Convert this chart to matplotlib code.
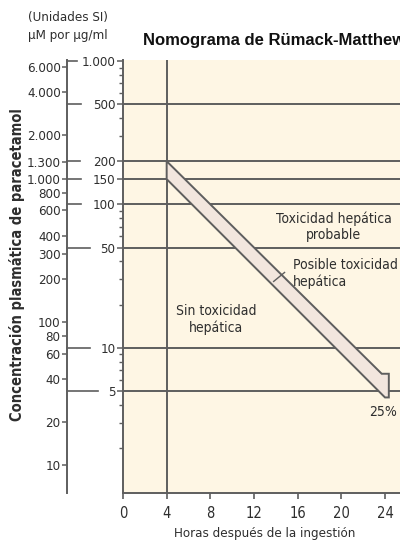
import numpy as np
import matplotlib
matplotlib.use("Agg")
import matplotlib.pyplot as plt
from matplotlib.transforms import blended_transform_factory
from matplotlib.ticker import FixedLocator, NullFormatter

# --- data ---------------------------------------------------------------
hours_ticks = [0, 4, 8, 12, 16, 20, 24]
ugml_major = [1000, 500, 200, 150, 100, 50, 10, 5]
ugml_minor = [900, 800, 700, 600, 400, 300, 90, 80, 70, 60, 40, 30, 20,
              9, 8, 7, 6, 4, 3, 2]
grid_levels = [500, 200, 150, 100, 50, 10, 5]
umol_ticks = [6000, 4000, 2000, 1300, 1000, 800, 600, 400, 300, 200,
              100, 80, 60, 40, 20, 10]
umol_labels = ["6.000", "4.000", "2.000", "1.300", "1.000", "800", "600",
               "400", "300", "200", "100", "80", "60", "40", "20", "10"]
ugml_to_umol = 6.616          # 1 µg/ml paracetamol = 6.616 µM

band_hours = [4, 24]
upper_limit = [200, 6.25]     # treatment line
lower_limit = [150, 4.5]      # 25 % below

# --- style --------------------------------------------------------------
W, H, DPI = 400, 546, 100
TXT = "#2e2e2e"
LINE = "#5e5e5e"
CREAM = "#fef6e4"
BAND = "#f2e6de"

plt.rcParams["font.family"] = ["DejaVu Sans"]
plt.rcParams["font.stretch"] = "condensed"

fig = plt.figure(figsize=(W / DPI, H / DPI), dpi=DPI)

def fx(px):
    return px / W

def fy(py):
    return 1 - py / H

ax_left, ax_top, ax_bottom = 123, 60, 493
px_per_hour = (385 - 123) / 24
xmax = 26.0
ax = fig.add_axes([fx(ax_left), fy(ax_bottom),
                   xmax * px_per_hour / W, (ax_bottom - ax_top) / H])
ax.set_facecolor(CREAM)
ax.set_yscale("log")
ylim = (0.97, 1016)
ax.set_ylim(*ylim)
ax.set_xlim(0, xmax)

for s in ("top", "right"):
    ax.spines[s].set_visible(False)
for s in ("left", "bottom"):
    ax.spines[s].set_color(LINE)
    ax.spines[s].set_linewidth(1.4)

# x axis
ax.set_xticks(hours_ticks)
ax.set_xticklabels([str(h) for h in hours_ticks])
ax.tick_params(axis="x", length=4, width=1.2, color=LINE, labelsize=10.5,
               labelcolor=TXT, pad=5)

# inner concentration axis (µg/ml)
ax.yaxis.set_major_locator(FixedLocator(ugml_major))
ax.yaxis.set_minor_locator(FixedLocator(ugml_minor))
ax.set_yticklabels([f"{v:,}".replace(",", ".") for v in ugml_major])
ax.yaxis.set_minor_formatter(NullFormatter())
ax.tick_params(axis="y", which="major", length=4.5, width=1.1, color=LINE,
               labelsize=9.5, labelcolor=TXT, pad=1)
ax.tick_params(axis="y", which="minor", length=3, width=1.0, color=LINE)

# grid lines
for lvl in grid_levels:
    ax.axhline(lvl, color=LINE, lw=1.4, zorder=2)
ax.axvline(4, color=LINE, lw=1.4, zorder=2)

# toxicity band
def loglin(h, hs, vs):
    lv = np.interp(h, hs, np.log10(vs))
    return 10 ** lv

h_end = 23.7
h_flag = 24.35
v_top = loglin(h_end, band_hours, upper_limit)
v_bot = lower_limit[1]
hh = np.linspace(band_hours[0], h_end, 50)
poly_x = list(hh) + [h_flag, h_flag, band_hours[1]] + list(
    np.linspace(band_hours[1], band_hours[0], 50))
poly_y = list(loglin(hh, band_hours, upper_limit)) + [v_top, v_bot, v_bot] + list(
    loglin(np.linspace(band_hours[1], band_hours[0], 50), band_hours, lower_limit))
ax.fill(poly_x, poly_y, facecolor=BAND, edgecolor=LINE, lw=1.4, zorder=3)

# annotations
note = dict(fontsize=10, color=TXT, linespacing=1.2, zorder=4)
ax.text(19.3, 70, "Toxicidad hepática\nprobable", ha="center", va="center",
        **note)
ax.text(15.6, 33, "Posible toxicidad\nhepática", ha="left", va="center",
        **note)
ax.plot([13.8, 14.8], [29, 33.5], color=LINE, lw=1.0, zorder=4)
ax.text(8.5, 15.7, "Sin toxicidad\nhepática", ha="center", va="center",
        **note)
ax.text(23.85, 3.55, "25%", ha="center", va="center", fontsize=10,
        color=TXT, zorder=4)

ax.set_xlabel("Horas después de la ingestión", fontsize=9.5, color=TXT,
              labelpad=5)

# outer axis in SI units (µM)
ax2 = fig.add_axes([fx(67), fy(ax_bottom), 0.001, (ax_bottom - ax_top) / H])
ax2.set_yscale("log")
ax2.set_ylim(ylim[0] * ugml_to_umol, ylim[1] * ugml_to_umol)
ax2.patch.set_visible(False)
for s in ("top", "right", "bottom"):
    ax2.spines[s].set_visible(False)
ax2.spines["left"].set_color(LINE)
ax2.spines["left"].set_linewidth(1.4)
ax2.set_xticks([])
ax2.yaxis.set_major_locator(FixedLocator(umol_ticks))
ax2.yaxis.set_minor_locator(FixedLocator([]))
ax2.set_yticklabels(umol_labels)
ax2.tick_params(axis="y", length=3.5, width=1.1, color=LINE, labelsize=9.5,
                labelcolor=TXT, pad=1)

# conversion marks between the two scales
mark_len = [10, 14, 13, 14, 14, 23, 23, 31]
tr = blended_transform_factory(fig.transFigure, ax.transData)
for v, ln in zip(ugml_major, mark_len):
    ax.plot([fx(67), fx(67 + ln)], [v, v], transform=tr, color=LINE,
            lw=1.2, clip_on=False)

# header texts
fig.text(fx(28), fy(17), "(Unidades SI)", ha="left", va="center",
         fontsize=9.5, color=TXT)
fig.text(fx(28), fy(35), "µM por µg/ml", ha="left", va="center",
         fontsize=9.5, color=TXT)
fig.text(fx(143), fy(41), "Nomograma de Rümack-Matthew", ha="left",
         va="center", fontsize=12, fontweight="bold", color="#111111",
         family=["Liberation Sans", "DejaVu Sans"], fontstretch="normal")
fig.text(fx(17), fy(265), "Concentración plasmática de paracetamol",
         rotation=90, ha="center", va="center", fontsize=10.5,
         fontweight="bold", color=TXT)

fig.savefig("out.png", dpi=DPI)
